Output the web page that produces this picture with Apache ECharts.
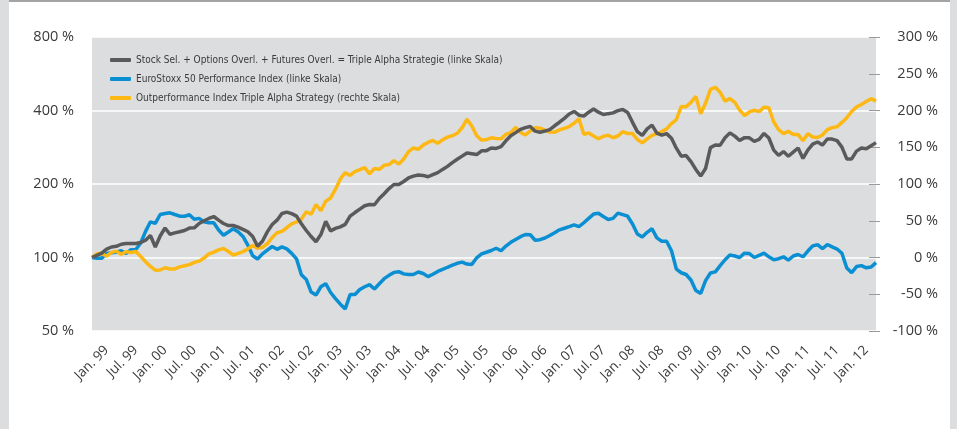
<!DOCTYPE html>
<html><head><meta charset="utf-8">
<script src="https://cdn.jsdelivr.net/npm/echarts@6/dist/echarts.min.js"></script>
<style>
html,body{margin:0;padding:0;width:957px;height:429px;overflow:hidden;background:#dcdddf;}
#frame{position:absolute;left:9px;top:0;width:941px;height:429px;background:#fff;border-top:2px solid #a4a4a4;box-sizing:border-box;}
#chart{position:absolute;left:0;top:0;width:957px;height:429px;}
</style></head>
<body><div id="frame"></div><div id="chart"></div>
<script>
// Monthly categories Oct 98 .. Mar 12
const monthNames = ['Jan.','Feb.','Mär.','Apr.','Mai','Jun.','Jul.','Aug.','Sep.','Okt.','Nov.','Dez.'];
const startYear = 1998, startMonth = 9, monthCount = 162;
const categories = [];
for (let k = 0; k < monthCount; k++) {
  const m = (startMonth + k) % 12, y = startYear + Math.floor((startMonth + k) / 12);
  categories.push(monthNames[m] + ' ' + String(y % 100).padStart(2, '0'));
}
const seriesNames = [
  'Stock Sel. + Options Overl. + Futures Overl. = Triple Alpha Strategie (linke Skala)',
  'EuroStoxx 50 Performance Index (linke Skala)',
  'Outperformance Index Triple Alpha Strategy (rechte Skala)'
];
const leftTickLabels = ['50 %','100 %','200 %','400 %','800 %'];
const leftTickValues = [50,100,200,400,800];
const rightTickLabels = ['-100 %','-50 %','0 %','50 %','100 %','150 %','200 %','250 %','300 %'];

const tripleAlpha = [100,102.1,104.2,108.3,110.4,111.1,113.3,114.0,114.1,114.1,
115.2,117.7,123.0,110.4,122.5,132.1,124.5,126.1,127.5,129.0,
132.0,132.3,137.8,141.4,144.5,147.2,142.2,137.8,135.2,135.2,
133.2,130.3,127.5,121.9,111.2,116.6,127.3,136.5,142.2,151.4,
153.5,151.2,147.7,137.4,129.0,121.9,116.0,124.2,140.6,128.5,
131.6,133.5,136.6,147.7,152.8,157.8,162.9,164.8,164.5,174.4,
182.5,191.6,199.1,199.1,204.7,211.7,215.5,217.7,216.9,214.1,
218.6,222.7,229.5,236.2,244.7,252.6,260.1,268.0,266.0,264.0,
273.4,273.9,280.9,279.8,284.6,300.6,315.1,324.6,334.8,340.3,
343.9,329.2,325.8,329.5,334.2,346.3,358.1,371.4,387.2,396.4,
382.6,379.4,393.5,405.4,393.8,385.0,388.3,391.2,399.6,403.8,
392.7,357.8,327.7,316.3,336.4,348.4,323.1,317.2,321.6,307.7,
280.4,260.1,261.4,247.1,229.5,215.5,231.5,281.9,288.8,288.5,
309.2,323.9,314.2,301.6,309.7,309.2,299.1,304.6,322.2,308.6,
275.3,262.1,271.5,259.8,270.2,280.9,254.5,275.3,291.2,297.2,
288.8,305.7,305.5,301.0,283.3,253.3,253.3,272.7,280.7,278.9,
287.1,295.5];

const euroStoxx = [100,99.3,99.3,103.8,104.6,105.1,106.6,103.9,107.7,107.9,
114.7,127.9,140.0,137.9,150.0,151.3,152.4,150.0,147.7,147.6,
149.6,143.4,144.6,140.0,138.7,138.7,129.6,123.4,127.2,131.2,
127.5,122.0,112.4,101.7,98.6,103.5,107.2,110.9,108.0,110.5,
108.5,104.0,98.7,85.0,81.3,72.2,70.2,75.9,78.1,71.9,
67.9,64.4,61.6,70.5,70.5,74.0,75.9,77.4,74.3,78.1,
81.9,84.5,86.9,87.5,85.7,85.2,85.2,87.2,86.0,83.5,
85.4,87.7,89.4,91.2,93.0,94.7,95.7,94.0,93.7,99.7,
103.5,105.1,106.8,109.1,106.6,111.4,115.4,118.6,121.7,124.2,
123.9,117.7,118.3,120.2,123.0,126.3,129.8,131.8,133.9,136.1,
133.7,138.8,144.6,150.6,151.7,147.2,143.1,144.6,152.0,149.9,
147.6,137.1,124.7,121.3,126.8,131.1,120.3,116.6,116.6,106.5,
89.7,86.6,85.2,80.9,73.2,71.3,80.4,86.4,87.3,92.6,
97.9,102.4,101.4,100,104.2,103.8,100,102.1,104.2,100.6,
97.9,98.9,100.7,97.6,101.4,102.9,100.7,106.3,111.6,112.8,
108.8,113.0,110.5,108.3,104.1,90.6,86.7,91.8,92.6,90.7,
91.4,95.3];

const outperformance = [0,5.0,5.4,1.8,6.9,8.6,4.5,8.0,6.7,8.2,
1.5,-5.9,-12.2,-17.3,-17.0,-13.9,-15.6,-15.5,-12.8,-11.3,
-9.7,-6.7,-5.0,-0.8,5.0,7.2,10.3,12.2,8.2,3.4,
5.6,8.0,11.7,16.3,12.8,13.7,19.0,27.2,33.6,35.5,
40.5,45.6,48.3,52.2,62.2,58.9,72.1,63.7,76.6,81.0,
92.9,106.9,115.4,111.6,117.0,119.7,122.3,113.7,121.1,119.9,
125.4,126.5,131.8,127.1,133.9,143.9,149.0,147.2,152.9,156.5,
159.3,155.5,160.1,163.8,165.6,169.0,176.5,188.2,178.9,165.7,
159.7,160.4,162.9,162.0,161.4,167.6,169.9,177.1,170.1,166.7,
172.1,176.5,176.0,173.3,170.6,170.5,173.6,175.8,178.2,182.7,
188.7,167.6,169.4,165.3,161.6,164.8,166.4,162.9,165.3,171.3,
168.7,168.6,160.5,155.9,161.4,166.1,168.7,171.4,175.0,182.3,
187.5,205.3,205.2,211.0,219.2,195.5,210.1,228.7,231.6,224.6,
212.8,216.3,211.1,200.5,193.2,198.0,200.4,198.4,204.6,203.7,
184.3,173.9,168.6,171.7,167.3,167.3,159.0,168.3,163.9,163.3,
166.7,173.9,176.7,177.8,183.8,190.3,198.6,204.9,208.2,212.2,
216.1,212.7];

// log2 scale for the left axis (100 % = 0)
const toLog = v => Math.log2(v / 100);

const FONT = "'Open Sans', 'Noto Sans', sans-serif";
const LEGFONT = "'Liberation Sans Narrow', 'DejaVu Sans Condensed', 'Roboto', sans-serif";
const TXT = '#3a3a3a';

const chart = echarts.init(document.getElementById('chart'), null, {renderer: 'canvas'});
chart.setOption({
  animation: false,
  backgroundColor: 'transparent',
  grid: {left: 92, right: 81, top: 37, bottom: 98, show: true, backgroundColor: '#dcdddf', borderWidth: 0, containLabel: false},
  legend: {
    orient: 'vertical', left: 105, top: 49, itemGap: 7, itemWidth: 21, itemHeight: 4,
    icon: 'roundRect', data: seriesNames,
    textStyle: {fontFamily: LEGFONT, fontSize: 10, color: TXT, lineHeight: 12}
  },
  xAxis: {
    type: 'category', data: categories, boundaryGap: false,
    axisLine: {show: false}, axisTick: {show: false}, splitLine: {show: false},
    axisLabel: {
      rotate: 45, margin: 17, fontFamily: FONT, fontSize: 13.5, color: TXT,
      interval: (idx, val) => val.startsWith('Jan.') || val.startsWith('Jul.')
    }
  },
  yAxis: [{
    type: 'value', min: -1, max: 3, interval: 1, position: 'left',
    axisLine: {show: false}, axisTick: {show: false},
    splitLine: {show: true, lineStyle: {color: '#ffffff', width: 1.5}},
    axisLabel: {margin: 18, fontFamily: FONT, fontSize: 14.5, color: TXT,
      formatter: v => leftTickLabels[leftTickValues.indexOf(Math.round(100 * Math.pow(2, v)))]}
  }, {
    type: 'value', min: -100, max: 300, interval: 50, position: 'right', offset: -7,
    axisLine: {show: false},
    axisTick: {show: true, length: 11, lineStyle: {color: '#9a9a9a', width: 1}},
    splitLine: {show: false},
    axisLabel: {margin: 69, align: 'right', fontFamily: FONT, fontSize: 14.5, color: TXT,
      formatter: v => rightTickLabels[(v + 100) / 50]}
  }],
  series: [
    {name: seriesNames[0], type: 'line', yAxisIndex: 0, data: tripleAlpha.map(toLog),
      showSymbol: false, color: '#5a5a5a', lineStyle: {width: 3.5, color: '#5a5a5a'}, z: 3},
    {name: seriesNames[1], type: 'line', yAxisIndex: 0, data: euroStoxx.map(toLog),
      showSymbol: false, color: '#0b8fd3', lineStyle: {width: 3.5, color: '#0b8fd3'}, z: 2},
    {name: seriesNames[2], type: 'line', yAxisIndex: 1, data: outperformance,
      showSymbol: false, color: '#fdb813', lineStyle: {width: 3.5, color: '#fdb813'}, z: 2}
  ]
});
</script></body></html>
